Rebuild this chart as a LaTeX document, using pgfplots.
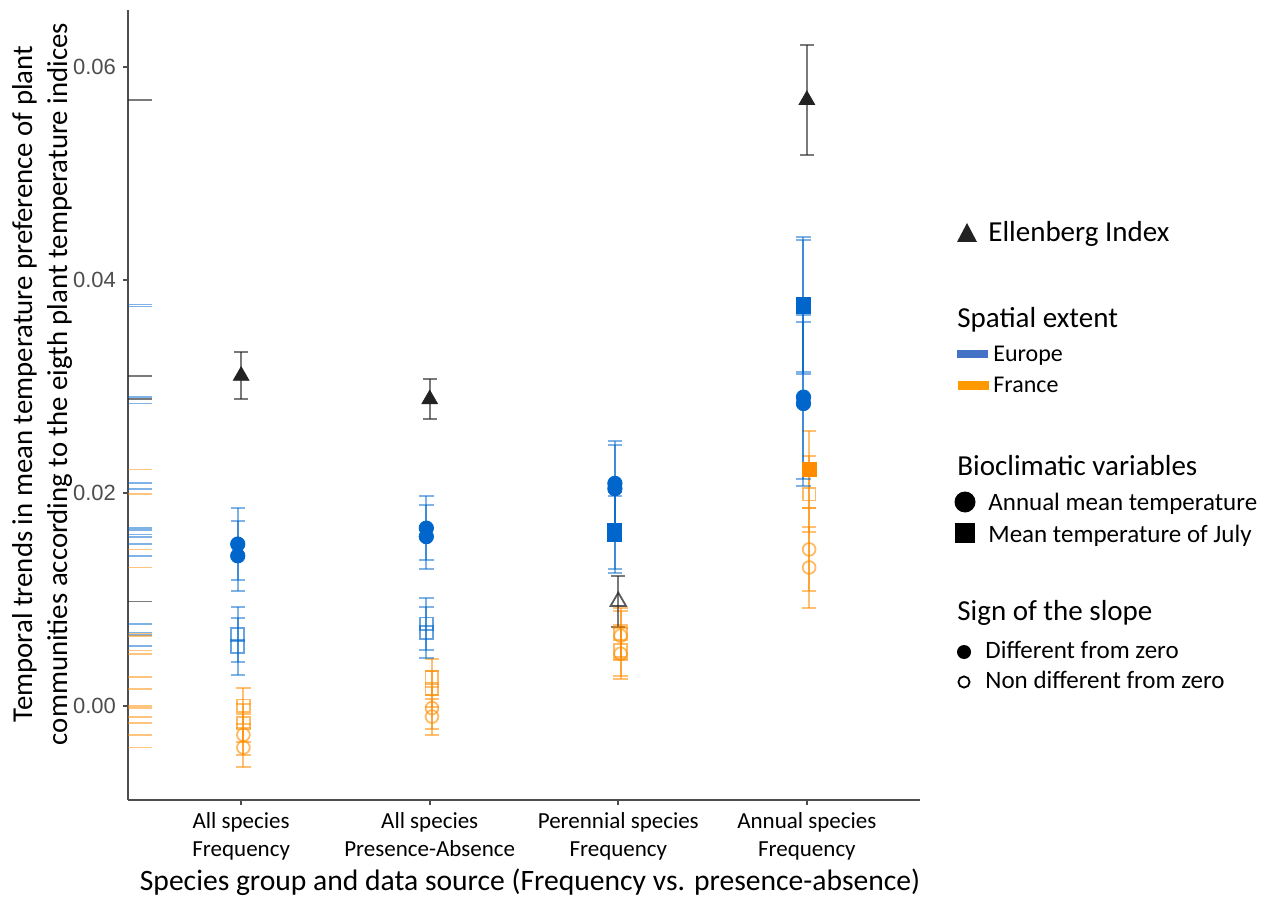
\documentclass[border=0pt]{standalone}
\usepackage{fontspec}
\usepackage{pgfplots}
\pgfplotsset{compat=1.18}
\usepackage{pgfplotstable}
\setmainfont{Carlito}
\newfontfamily\tickfont{Liberation Sans}

\definecolor{blueM}{RGB}{0,102,204}
\definecolor{orangeM}{RGB}{255,140,0}
\definecolor{triM}{RGB}{34,34,34}
\definecolor{legBlue}{RGB}{68,114,196}
\definecolor{legOrange}{RGB}{255,153,0}
\definecolor{axgrey}{RGB}{77,77,77}

% Europe, annual mean temperature, different from zero
\pgfplotstableread{
x y e
1 0.0152 0.0034
1 0.0141 0.0033
2 0.0167 0.0030
2 0.0159 0.0030
3 0.0209 0.0040
3 0.0204 0.0041
4 0.0290 0.0077
4 0.0284 0.0077
}\euCircFill
% Europe, July, different from zero
\pgfplotstableread{
x y e
3 0.0165 0.0036
3 0.0161 0.0036
4 0.0377 0.0063
4 0.0375 0.0063
}\euSqFill
% Europe, July, non different
\pgfplotstableread{
x y e
1 0.0067 0.0026
1 0.0056 0.0027
2 0.0077 0.0024
2 0.0069 0.0024
}\euSqOpen
% France, July, non different
\pgfplotstableread{
x y e
1 0.0000 0.0017
1 -0.0016 0.0018
2 0.0027 0.0017
2 0.0016 0.0017
3 0.0068 0.0024
3 0.0052 0.0024
4 0.0199 0.0036
}\frSqOpen
% France, annual mean, non different
\pgfplotstableread{
x y e
1 -0.0027 0.0019
1 -0.0039 0.0018
2 -0.0002 0.0020
2 -0.0010 0.0017
3 0.0066 0.0023
3 0.0049 0.0024
4 0.0147 0.0039
4 0.0130 0.0038
}\frCircOpen
% France, July, different from zero
\pgfplotstableread{
x y e
4 0.0222 0.0036
}\frSqFill
% Ellenberg, different from zero
\pgfplotstableread{
x y e
1 0.0310 0.0022
2 0.0288 0.0019
4 0.0569 0.0052
}\ellFill
% Ellenberg, non different
\pgfplotstableread{
x y e
3 0.0098 0.0024
}\ellOpen

\pgfplotsset{
  ebar/.style={/pgfplots/error bars/y dir=both, /pgfplots/error bars/y explicit,
    /pgfplots/error bars/error bar style={#1,line width=1pt},
    /pgfplots/error bars/error mark options={rotate=90,mark size=3.6pt,#1,line width=1pt}},
  rug/.style={only marks, mark=-, mark size=6pt, mark options={#1,line width=0.9pt}},
}

\begin{document}
\begin{tikzpicture}
\begin{axis}[
  scale only axis, width=396pt, height=395pt,
  xmin=0.4, xmax=4.6, ymin=-0.00883, ymax=0.06535,
  axis x line*=bottom, axis y line*=left,
  axis line style={axgrey, line width=0.8pt},
  xtick={1,2,3,4},
  xticklabels={All species\\Frequency, All species\\Presence-Absence, Perennial species\\Frequency, Annual species\\Frequency},
  xticklabel style={align=center, font=\fontsize{11.5}{14}\selectfont, text=black},
  ytick={0,0.02,0.04,0.06}, yticklabels={0.00,0.02,0.04,0.06},
  yticklabel style={font=\tickfont\fontsize{11}{13}\selectfont, text=axgrey},
  scaled y ticks=false,
  tick style={axgrey, line width=0.8pt}, tick align=outside, major tick length=2.5pt,
  clip=false,
  /pgf/number format/assume math mode=true,
]
\coordinate (O) at (rel axis cs:0,0);
% rug along the y axis
\addplot[rug={blueM,opacity=0.5}] table[x expr=0.4636, y=y] {\euCircFill};
\addplot[rug={blueM,opacity=0.5}] table[x expr=0.4636, y=y] {\euSqFill};
\addplot[rug={blueM,opacity=0.5}] table[x expr=0.4636, y=y] {\euSqOpen};
\addplot[rug={orangeM,opacity=0.5}] table[x expr=0.4636, y=y] {\frSqOpen};
\addplot[rug={orangeM,opacity=0.5}] table[x expr=0.4636, y=y] {\frCircOpen};
\addplot[rug={orangeM,opacity=0.5}] table[x expr=0.4636, y=y] {\frSqFill};
\addplot[rug={triM,opacity=0.6}] table[x expr=0.4636, y=y] {\ellFill};
\addplot[rug={triM,opacity=0.6}] table[x expr=0.4636, y=y] {\ellOpen};
% France
\addplot[only marks, mark=square, mark size=3.2pt, mark options={orangeM,opacity=0.6,line width=0.9pt}, ebar={orangeM,opacity=0.55}]
  table[x expr=\thisrow{x}+0.012, y=y, y error=e] {\frSqOpen};
\addplot[only marks, mark=o, mark size=3.2pt, mark options={orangeM,opacity=0.6,line width=0.9pt}, ebar={orangeM,opacity=0.55}]
  table[x expr=\thisrow{x}+0.012, y=y, y error=e] {\frCircOpen};
\addplot[only marks, mark=square*, mark size=3.5pt, mark options={orangeM,fill=orangeM}, ebar={orangeM,opacity=0.55}]
  table[x expr=\thisrow{x}+0.012, y=y, y error=e] {\frSqFill};
% Europe
\addplot[only marks, mark=square, mark size=3.2pt, mark options={blueM,opacity=0.6,line width=0.9pt}, ebar={blueM,opacity=0.5}]
  table[x expr=\thisrow{x}-0.018, y=y, y error=e] {\euSqOpen};
\addplot[only marks, mark=square*, mark size=3.5pt, mark options={blueM,fill=blueM}, ebar={blueM,opacity=0.5}]
  table[x expr=\thisrow{x}-0.018, y=y, y error=e] {\euSqFill};
\addplot[only marks, mark=*, mark size=3.6pt, mark options={blueM,fill=blueM}, ebar={blueM,opacity=0.5}]
  table[x expr=\thisrow{x}-0.018, y=y, y error=e] {\euCircFill};
% Ellenberg
\addplot[only marks, mark=triangle, mark size=4.5pt, mark options={triM,opacity=0.75,line width=0.9pt}, ebar={triM,opacity=0.6}]
  table[x=x, y=y, y error=e] {\ellOpen};
\addplot[only marks, mark=triangle*, mark size=4.5pt, mark options={triM,fill=triM}, ebar={triM,opacity=0.6}]
  table[x=x, y=y, y error=e] {\ellFill};
\end{axis}

\begin{scope}[shift={(O)}, xshift=-64pt, yshift=400pt, x=0.5pt, y=-0.5pt]
  % axis titles
  \node[anchor=base, font=\fontsize{14.8}{17}\selectfont] at (530,890) {Species group and data source (Frequency vs. presence-absence)};
  \node[rotate=90, align=center, font=\fontsize{14.4}{17.5}\selectfont] at (42,384)
    {Temporal trends in mean temperature preference of plant\\communities according to the eigth plant temperature indices};
  % legend
  \fill[triM] (957,242) -- (977,242) -- (967,223) -- cycle;
  \node[anchor=base west, inner sep=0pt, font=\fontsize{14.5}{17}\selectfont] at (988,242) {Ellenberg Index};
  \node[anchor=base west, inner sep=0pt, font=\fontsize{14.5}{17}\selectfont] at (957,328) {Spatial extent};
  \fill[legBlue] (957,350) rectangle (988,358);
  \node[anchor=base west, inner sep=0pt, font=\fontsize{12}{14}\selectfont] at (993,362) {Europe};
  \fill[legOrange] (958,381) rectangle (989,390);
  \node[anchor=base west, inner sep=0pt, font=\fontsize{12}{14}\selectfont] at (993,392) {France};
  \node[anchor=base west, inner sep=0pt, font=\fontsize{14.5}{17}\selectfont] at (957,475) {Bioclimatic variables};
  \fill[black] (965,502) circle[radius=5.25pt];
  \node[anchor=base west, inner sep=0pt, font=\fontsize{12.5}{15}\selectfont] at (988,510) {Annual mean temperature};
  \fill[black] (955,523) rectangle (975,543);
  \node[anchor=base west, inner sep=0pt, font=\fontsize{12.5}{15}\selectfont] at (988,542) {Mean temperature of July};
  \node[anchor=base west, inner sep=0pt, font=\fontsize{14.5}{17}\selectfont] at (957,620) {Sign of the slope};
  \fill[black] (964,652) circle[radius=3.5pt];
  \node[anchor=base west, inner sep=0pt, font=\fontsize{12.5}{15}\selectfont] at (985,658) {Different from zero};
  \draw[black, line width=0.9pt] (964,682) circle[radius=2.8pt];
  \node[anchor=base west, inner sep=0pt, font=\fontsize{12.5}{15}\selectfont] at (985,688) {Non different from zero};
\end{scope}

\pgfresetboundingbox
\path[use as bounding box] (O) ++(-64pt,-50pt) rectangle ++(636pt,450pt);
\end{tikzpicture}
\end{document}
